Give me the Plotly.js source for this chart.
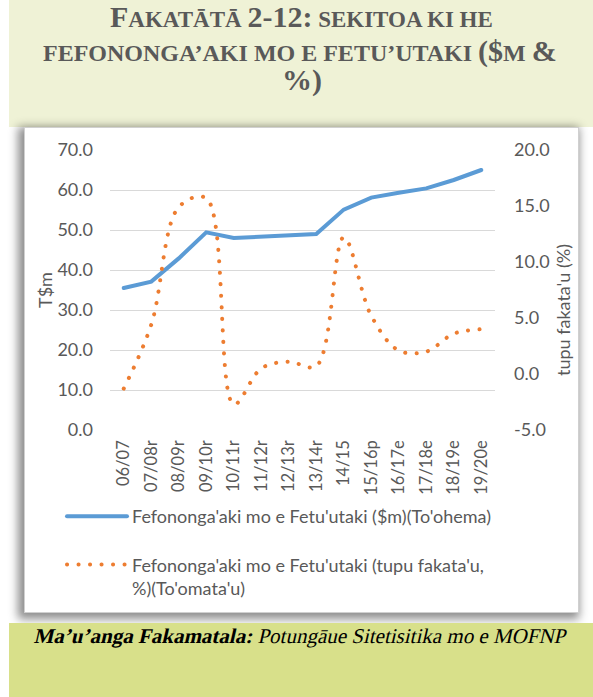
<!DOCTYPE html>
<html>
<head>
<meta charset="utf-8">
<script src="https://cdn.plot.ly/plotly-3.0.1.min.js"></script>
<style>
html,body{margin:0;padding:0;width:593px;height:697px;overflow:hidden;background:#ffffff;}
#topband{position:absolute;left:9px;top:0;width:584px;height:127px;background:#eff2d6;}
#box{position:absolute;left:24px;top:127px;width:553px;height:484px;background:#ffffff;border:1px solid #d0d0d0;box-shadow:-3px 3px 9px 3px rgba(0,0,0,0.45);}
#foot{position:absolute;left:9px;top:623px;width:584px;height:74px;background:#d8e08a;}
#chart{position:absolute;left:0;top:0;width:593px;height:697px;}
path.js-line{stroke-linecap:round;}
g.annotation[data-index="5"] text.annotation-text{transform-box:fill-box;transform-origin:center;transform:skewX(-13deg);}
</style>
</head>
<body>
<div id="topband"></div>
<div id="box"></div>
<div id="foot"></div>
<div id="chart"></div>
<script>
// ---- data ----
var categories = ['06/07','07/08r','08/09r','09/10r','10/11r','11/12r','12/13r','13/14r','14/15','15/16p','16/17e','17/18e','18/19e','19/20e'];
var valueMillions = [35.5, 37.1, 42.9, 49.4, 48.0, 48.3, 48.7, 49.0, 55.1, 58.1, 59.3, 60.4, 62.5, 65.0];
var growthPercent = [-1.3, 4.4, 14.9, 15.7, -2.7, 0.5, 1.1, 0.7, 12.2, 5.2, 2.1, 2.0, 3.6, 4.0];
var rightTickValues = [-5, 0, 5, 10, 15, 20];
var rightTickLabels = ['-5.0', '0.0', '5.0', '10.0', '15.0', '20.0'];
var seriesNames = ["Fefononga'aki mo e Fetu'utaki ($m)(To'ohema)",
                   "Fefononga'aki mo e Fetu'utaki (tupu fakata'u,<br>%)(To'omata'u)"];
var leftAxisTitle = 'T$m';
var rightAxisTitle = "tupu fakata'u (%)";
var titleLine1 = '<span style="font-size:30px">F</span>AKATĀTĀ <span style="font-size:30px">2-12:</span> SEKITOA KI HE';
var titleLine2 = 'FEFONONGA’AKI MO E FETU’UTAKI <span style="font-size:30px">($</span>M <span style="font-size:30px">&amp;</span>';
var titleLine3 = '%)';
var sourceText = '<b>Ma’u’anga Fakamatala:</b> Potungāue Sitetisitika mo e MOFNP';

// ---- geometry helpers (plot area pixels -> paper coords) ----
var L = 110, R = 495, T = 150, B = 430;
function px(X){ return (X - L) / (R - L); }
function py(Y){ return (B - Y) / (B - T); }

var traces = [
  {
    x: categories, y: valueMillions, name: seriesNames[0], type: 'scatter', mode: 'lines',
    yaxis: 'y', legendgroup: 'a',
    line: {color: '#5b9bd5', width: 4}
  },
  {
    x: categories, y: growthPercent, name: seriesNames[1], type: 'scatter', mode: 'lines',
    yaxis: 'y2', legendgroup: 'b',
    line: {color: '#ed7d31', width: 4, dash: '0.1px,11.4px', shape: 'spline', smoothing: 1}
  }
];

var serif = 'Liberation Serif, Times New Roman, serif';
var titleFont = {family: serif, size: 23, color: '#595959', weight: 700};
var titleFont2 = {family: serif, size: 24, color: '#595959', weight: 700};

var layout = {
  width: 593, height: 697,
  margin: {l: 110, r: 98, t: 150, b: 267, pad: 0},
  paper_bgcolor: 'rgba(0,0,0,0)', plot_bgcolor: 'rgba(0,0,0,0)',
  font: {family: 'Lato, Open Sans, sans-serif', color: '#595959', size: 18},
  showlegend: true,
  xaxis: {type: 'category', range: [-0.5, categories.length - 0.5], tickangle: -90,
          tickfont: {size: 16.5}, showgrid: false, showline: false,
          ticks: '', zeroline: false, ticklabelstandoff: 6, fixedrange: true},
  yaxis: {range: [0, 70], dtick: 10, tick0: 0, tickformat: '.1f', gridcolor: '#d9d9d9', gridwidth: 1,
          zeroline: false, showline: false, ticks: '', ticklabelstandoff: 16, tickfont: {size: 18}},
  yaxis2: {overlaying: 'y', side: 'right', range: [-5, 20], tickmode: 'array',
           tickvals: rightTickValues, ticktext: rightTickLabels,
           showgrid: false, zeroline: false, showline: false, ticks: '', ticklabelstandoff: 18,
           tickfont: {size: 18}},
  legend: {orientation: 'v', x: px(62), xanchor: 'left', y: py(498), yanchor: 'top',
           traceorder: 'grouped', tracegroupgap: 22, valign: 'top', itemwidth: 60,
           font: {size: 18, color: '#595959'}, bgcolor: 'rgba(0,0,0,0)'},
  annotations: [
    {xref: 'paper', yref: 'paper', x: px(301), y: py(17), xanchor: 'center', yanchor: 'middle',
     showarrow: false, text: titleLine1, font: titleFont},
    {xref: 'paper', yref: 'paper', x: px(300), y: py(51), xanchor: 'center', yanchor: 'middle',
     showarrow: false, text: titleLine2, font: titleFont2},
    {xref: 'paper', yref: 'paper', x: px(302), y: py(80), xanchor: 'center', yanchor: 'middle',
     showarrow: false, text: titleLine3, font: {family: serif, size: 30, color: '#595959', weight: 700}},
    {xref: 'paper', yref: 'paper', x: px(45), y: py(290), xanchor: 'center', yanchor: 'middle',
     showarrow: false, textangle: -90, text: leftAxisTitle, font: {size: 18, color: '#595959'}},
    {xref: 'paper', yref: 'paper', x: px(563), y: py(310), xanchor: 'center', yanchor: 'middle',
     showarrow: false, textangle: -90, text: rightAxisTitle, font: {size: 18, color: '#595959'}},
    {xref: 'paper', yref: 'paper', x: px(301), y: py(636), xanchor: 'center', yanchor: 'middle',
     showarrow: false, text: sourceText,
     font: {family: serif, size: 21, color: '#000000'}}
  ]
};

Plotly.newPlot('chart', traces, layout, {displayModeBar: false, staticPlot: true});
</script>
</body>
</html>
